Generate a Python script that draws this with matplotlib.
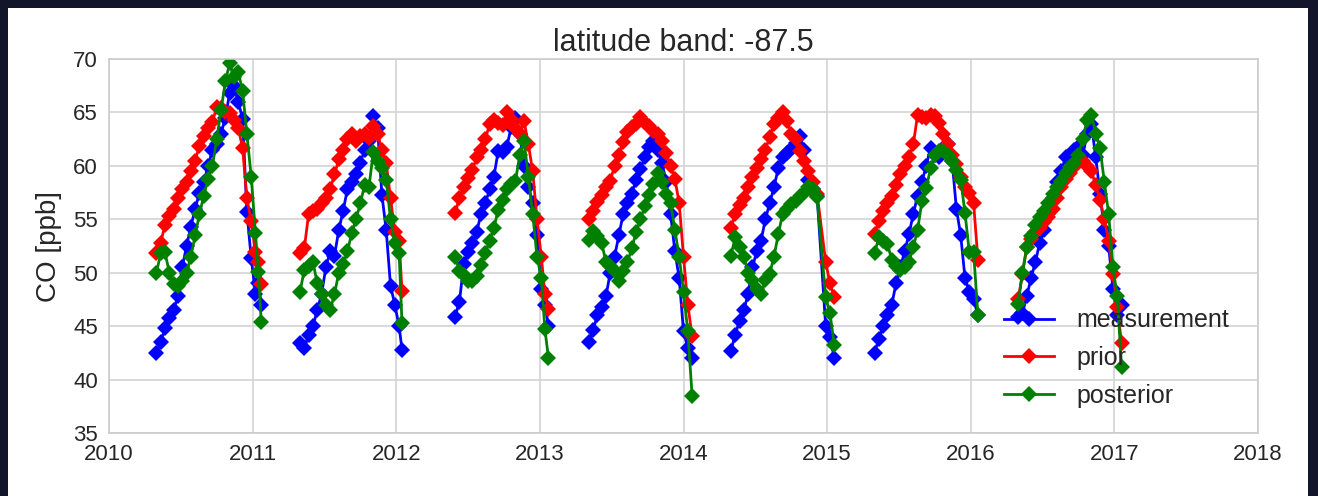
import numpy
import matplotlib
matplotlib.use("Agg")
import matplotlib.pyplot as plt
from matplotlib.patches import Rectangle

# sampling dates (decimal year) of each austral season
t2010 = [2010.33, 2010.36, 2010.39, 2010.42, 2010.45, 2010.48, 2010.51, 2010.54, 2010.57, 2010.60,
         2010.63, 2010.66, 2010.69, 2010.72, 2010.75, 2010.78, 2010.81, 2010.84, 2010.87, 2010.90,
         2010.93, 2010.96, 2010.99, 2011.02, 2011.04, 2011.06]
t2011 = [2011.33, 2011.36, 2011.39, 2011.42, 2011.45, 2011.48, 2011.51, 2011.54, 2011.57, 2011.60,
         2011.63, 2011.66, 2011.69, 2011.72, 2011.75, 2011.78, 2011.81, 2011.84, 2011.87, 2011.90,
         2011.93, 2011.96, 2011.99, 2012.02, 2012.04]
t2012 = [2012.41, 2012.44, 2012.47, 2012.50, 2012.53, 2012.56, 2012.59, 2012.62, 2012.65, 2012.68,
         2012.71, 2012.74, 2012.77, 2012.80, 2012.83, 2012.86, 2012.89, 2012.92, 2012.95, 2012.98,
         2013.01, 2013.035, 2013.06]
t2013 = [2013.34, 2013.37, 2013.40, 2013.43, 2013.46, 2013.49, 2013.52, 2013.55, 2013.58, 2013.61,
         2013.64, 2013.67, 2013.70, 2013.73, 2013.76, 2013.79, 2013.82, 2013.85, 2013.88, 2013.91,
         2013.94, 2013.97, 2014.00, 2014.03, 2014.06]
t2014 = [2014.33, 2014.36, 2014.39, 2014.42, 2014.45, 2014.48, 2014.51, 2014.54, 2014.57, 2014.60,
         2014.63, 2014.66, 2014.69, 2014.72, 2014.75, 2014.78, 2014.81, 2014.84, 2014.87, 2014.90,
         2014.93, 2014.99, 2015.02, 2015.05]
t2015 = [2015.33, 2015.36, 2015.39, 2015.42, 2015.45, 2015.48, 2015.51, 2015.54, 2015.57, 2015.60,
         2015.63, 2015.66, 2015.69, 2015.72, 2015.75, 2015.78, 2015.81, 2015.84, 2015.87, 2015.90,
         2015.93, 2015.96, 2015.99, 2016.02, 2016.05]
t2016 = [2016.33, 2016.36, 2016.39, 2016.42, 2016.45, 2016.48, 2016.51, 2016.54, 2016.57, 2016.60,
         2016.63, 2016.66, 2016.69, 2016.72, 2016.75, 2016.78, 2016.81, 2016.84, 2016.87, 2016.90,
         2016.93, 2016.96, 2016.99, 2017.02, 2017.05]

# CO mixing ratio [ppb]
meas2010 = [42.5, 43.5, 44.8, 45.8, 46.5, 47.8, 50.5, 52.5, 54.3, 56.0, 57.5, 58.5, 60.0, 61.5, 62.0,
            63.0, 64.5, 66.8, 67.5, 66.0, 64.4, 55.7, 51.4, 48.0, 49.0, 47.0]
prior2010 = [51.8, 52.8, 54.5, 55.3, 56.0, 57.0, 57.8, 58.5, 59.5, 60.5, 61.9, 62.8, 63.5, 64.1, 65.5,
             65.4, 65.0, 64.9, 64.3, 63.5, 61.7, 57.0, 54.8, 51.9, 51.0, 48.9]
post2010 = [50.0, 51.8, 51.9, 50.0, 48.9, 48.8, 49.2, 50.0, 51.5, 53.5, 55.5, 57.2, 58.8, 60.0, 62.5,
            65.2, 67.9, 69.6, 68.3, 68.8, 67.0, 63.0, 59.0, 53.7, 50.1, 45.4]

meas2011 = [43.4, 43.0, 44.2, 45.0, 46.5, 48.0, 50.5, 52.0, 51.6, 54.0, 55.8, 57.8, 58.5, 59.2, 60.3,
            61.5, 62.3, 64.7, 63.5, 57.3, 54.0, 48.8, 47.0, 45.0, 42.8]
prior2011 = [51.8, 52.3, 55.5, 55.8, 56.0, 56.5, 57.0, 57.8, 59.2, 60.6, 61.5, 62.5, 63.0, 62.3, 62.8,
             63.0, 62.6, 63.7, 63.0, 61.5, 60.3, 57.0, 53.8, 53.0, 48.3]
post2011 = [48.2, 50.3, 50.6, 51.0, 49.0, 48.0, 47.0, 46.5, 48.0, 50.0, 50.8, 52.0, 53.7, 55.0, 56.5,
            58.2, 58.0, 61.3, 60.5, 59.8, 58.7, 55.0, 52.8, 51.8, 45.3]

meas2012 = [45.9, 47.3, 50.8, 51.9, 52.8, 53.8, 55.5, 56.5, 57.8, 59.0, 61.4, 61.3, 61.8, 63.6, 64.5,
            63.0, 60.0, 58.0, 56.5, 53.5, 48.5, 47.0, 45.0]
prior2012 = [55.6, 57.0, 58.0, 58.9, 59.6, 60.8, 61.5, 62.5, 63.9, 64.3, 64.0, 63.8, 65.0, 64.4, 63.5,
             63.0, 64.2, 62.0, 59.5, 55.0, 51.5, 48.0, 46.6]
post2012 = [51.5, 50.2, 49.8, 49.2, 49.2, 49.7, 50.7, 51.8, 53.0, 54.2, 55.9, 56.8, 57.8, 58.3, 58.6,
            61.0, 62.3, 59.0, 55.5, 51.5, 49.5, 44.7, 42.0]

meas2013 = [43.5, 44.6, 46.0, 46.8, 47.8, 50.0, 51.5, 53.5, 55.5, 56.5, 57.4, 58.7, 59.7, 60.8, 61.8,
            62.3, 61.5, 60.3, 58.5, 55.5, 52.0, 49.5, 44.5, 43.0, 42.0]
prior2013 = [55.0, 55.8, 56.6, 57.3, 58.0, 58.6, 60.0, 61.0, 62.2, 63.2, 63.6, 63.9, 64.6, 64.0, 63.7,
             63.3, 63.0, 62.3, 61.2, 60.0, 58.8, 56.5, 51.5, 47.0, 44.1]
post2013 = [53.1, 53.9, 53.4, 52.8, 51.0, 50.6, 50.2, 49.2, 50.2, 51.0, 52.3, 53.8, 55.0, 56.2, 57.3,
            58.3, 59.3, 58.5, 57.4, 56.5, 54.0, 51.5, 48.2, 44.5, 38.5]

meas2014 = [42.7, 44.2, 45.5, 46.5, 48.0, 50.5, 52.0, 53.0, 55.0, 56.5, 58.0, 59.8, 60.8, 61.2, 61.6,
            62.1, 62.8, 61.5, 58.7, 57.8, 57.2, 45.0, 44.0, 42.0]
prior2014 = [54.2, 55.5, 56.3, 57.0, 58.0, 59.0, 59.8, 60.6, 61.5, 62.7, 63.9, 64.5, 65.0, 64.2, 63.0,
             62.5, 61.4, 60.5, 59.5, 58.5, 57.4, 51.0, 49.0, 47.7]
post2014 = [51.6, 53.3, 52.4, 51.5, 50.0, 49.3, 48.5, 48.0, 49.3, 49.9, 51.5, 53.6, 55.5, 56.0, 56.4,
            56.7, 57.2, 57.5, 58.0, 57.8, 57.1, 47.7, 46.2, 43.2]

meas2015 = [42.5, 43.8, 45.0, 46.0, 47.0, 49.0, 50.5, 52.0, 53.6, 55.5, 57.2, 58.5, 60.0, 61.7, 61.0,
            60.8, 61.7, 62.0, 60.5, 56.0, 53.5, 49.5, 48.2, 47.5, 46.0]
prior2015 = [53.6, 54.8, 55.8, 56.5, 57.2, 58.2, 59.2, 60.0, 60.8, 62.0, 64.8, 64.6, 64.5, 64.8, 64.7,
             64.0, 63.0, 62.0, 61.0, 60.2, 59.0, 58.0, 57.5, 56.5, 51.2]
post2015 = [51.8, 53.3, 53.0, 52.7, 51.2, 50.6, 50.3, 50.5, 51.0, 52.4, 54.0, 56.7, 57.9, 59.8, 61.0,
            61.4, 61.4, 61.0, 60.5, 59.6, 58.7, 55.6, 51.9, 51.9, 46.0]

meas2016 = [45.9, 46.2, 47.8, 49.5, 51.0, 52.8, 54.0, 55.5, 57.0, 58.5, 59.5, 60.8, 61.0, 61.5, 61.8,
            61.0, 63.0, 63.9, 60.8, 57.4, 54.0, 52.5, 48.5, 46.0, 47.0]
prior2016 = [47.5, 49.9, 52.4, 53.2, 53.8, 54.2, 54.7, 55.2, 56.0, 57.0, 58.0, 58.8, 59.3, 59.9, 60.4,
             60.5, 60.0, 59.5, 58.2, 56.8, 55.0, 53.0, 49.9, 46.8, 43.4]
post2016 = [47.1, 50.0, 52.4, 53.4, 54.5, 55.2, 55.8, 56.5, 57.4, 58.0, 58.6, 59.3, 59.9, 60.3, 61.0,
            62.5, 64.3, 64.8, 63.0, 61.7, 58.5, 55.5, 50.5, 47.8, 41.2]

seasons_t = [t2010, t2011, t2012, t2013, t2014, t2015, t2016]
seasons_meas = [meas2010, meas2011, meas2012, meas2013, meas2014, meas2015, meas2016]
seasons_prior = [prior2010, prior2011, prior2012, prior2013, prior2014, prior2015, prior2016]
seasons_post = [post2010, post2011, post2012, post2013, post2014, post2015, post2016]


def join_seasons(parts):
    # NaN between seasons so the line breaks over the gaps
    out = []
    for p in parts:
        out.extend(p)
        out.append(numpy.nan)
    return numpy.array(out[:-1])


if __name__ == "__main__":
    plt.rcParams['font.family'] = ['Liberation Sans', 'DejaVu Sans']
    plt.rcParams['text.color'] = '0.15'
    plt.rcParams['axes.labelcolor'] = '0.15'
    plt.rcParams['xtick.color'] = '0.15'
    plt.rcParams['ytick.color'] = '0.15'

    fig = plt.figure(figsize=(13.18, 4.96), dpi=100, facecolor='#13162b')
    fig.patches.append(Rectangle((8, 0), 1300, 488, transform=None,
                                 facecolor='white', edgecolor='none', zorder=-10))
    ax = fig.add_axes([109 / 1318, 1 - 433 / 496, 1149 / 1318, 374 / 496])
    ax.set_facecolor('white')

    t = join_seasons(seasons_t)
    style = dict(marker='D', markersize=8, markeredgewidth=0, linewidth=2.0)
    ax.plot(t, join_seasons(seasons_meas), color='b', label='measurement', **style)
    ax.plot(t, join_seasons(seasons_prior), color='r', label='prior', **style)
    ax.plot(t, join_seasons(seasons_post), color='g', label='posterior', **style)

    ax.set_xlim(2010, 2018)
    ax.set_ylim(35, 70)
    ax.set_xticks(range(2010, 2019))
    ax.set_yticks(range(35, 71, 5))
    ax.grid(True, color='#d3d3d3', linewidth=1.2)
    ax.set_axisbelow(True)
    for s in ax.spines.values():
        s.set_color('#cccccc')
        s.set_linewidth(1.2)
    ax.tick_params(length=0, labelsize=16, pad=8)
    ax.set_ylabel('CO [ppb]', fontsize=20, labelpad=8)
    ax.set_title('latitude band: -87.5', fontsize=22, pad=6)

    ax.legend(loc='center left', bbox_to_anchor=(0.779, 0.2), frameon=False,
              fontsize=18, numpoints=1, handlelength=2.0, handletextpad=0.9,
              labelspacing=0.55, borderpad=0, borderaxespad=0)

    fig.savefig('out.png', dpi=100, facecolor=fig.get_facecolor())
